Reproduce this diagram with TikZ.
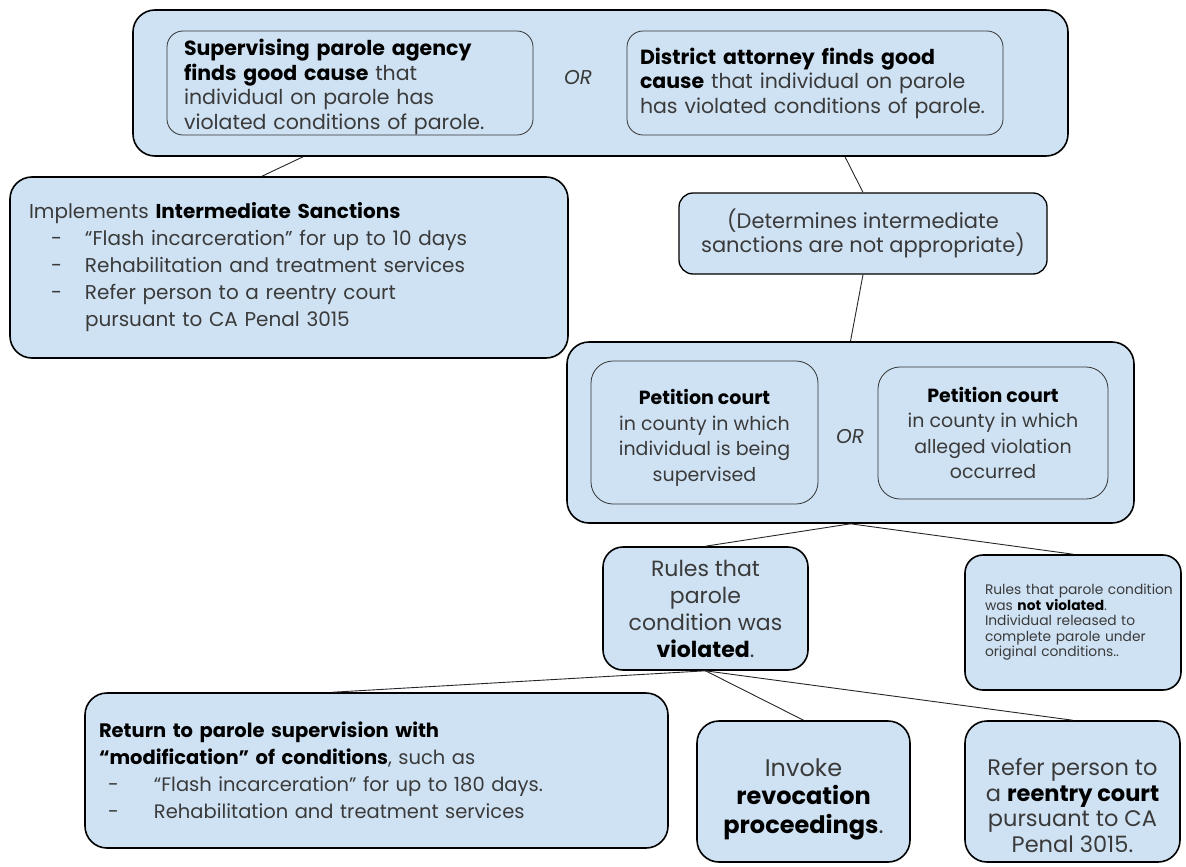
\documentclass[tikz,border=0pt]{standalone}
\usepackage{fontspec}
\setmainfont{Poppins}
\usetikzlibrary{positioning}
\definecolor{boxblue}{HTML}{CFE2F3}
\definecolor{inkgrey}{HTML}{3A3A3A}
\newcommand{\itm}{\hspace*{22pt}\makebox[34pt][l]{-}}
\newcommand{\cont}{\hspace*{56pt}}
\newcommand{\bld}[1]{\textbf{\color{black}#1}}
\newcommand{\ind}{\hspace*{16pt}}
\tikzset{
  outerbox/.style={draw=black, line width=1.6pt, fill=boxblue, rounded corners=22pt, text=inkgrey},
  innerbox/.style={draw=black!80, line width=0.8pt, rounded corners=16pt, text=inkgrey},
  link/.style={draw=black!85, line width=0.9pt},
}
\begin{document}
\begin{tikzpicture}[x=1pt,y=-1pt]
  \useasboundingbox (0,0) rectangle (1186,867);

  \node[outerbox, minimum width=935pt, minimum height=146pt] (agency) at (600.5,83) {};
  \node[innerbox, minimum width=366pt, minimum height=104pt, text width=332pt, inner xsep=17pt,
        inner ysep=0pt, align=left, font=\fontsize{20.5}{24.5}\selectfont] (supervising) at (350,83)
        {\mbox{}\\\bld{Supervising parole agency}\\\bld{finds good cause} that\\individual on parole has\\violated conditions of parole.};
  \node[text=inkgrey, font=\fontsize{20}{24}\selectfont\itshape] (or1) at (578,78) {OR};
  \node[innerbox, minimum width=376pt, minimum height=104pt, text width=350pt, inner xsep=13pt,
        align=left, font=\fontsize{20.5}{24.5}\selectfont] (attorney) at (815,83)
        {\bld{District attorney finds good}\\\bld{cause} that individual on parole\\has violated conditions of parole.};

  \node[outerbox, minimum width=558pt, minimum height=181pt, text width=520pt, inner xsep=19pt,
        align=left, font=\fontsize{20}{27}\selectfont] (sanctions) at (289,267.5)
        {Implements \bld{Intermediate Sanctions}\\
         \itm “Flash incarceration” for up to 10 days\\
         \itm Rehabilitation and treatment services\\
         \itm Refer person to a reentry court\\
         \cont pursuant to CA Penal 3015};

  \node[outerbox, line width=1.3pt, rounded corners=14pt, minimum width=368pt, minimum height=81pt,
        align=center, font=\fontsize{21}{24}\selectfont] (determines) at (863,233.5)
        {(Determines intermediate\\sanctions are not appropriate)};

  \node[outerbox, minimum width=567pt, minimum height=181pt] (petition) at (850.5,432.5) {};
  \node[innerbox, rounded corners=22pt, minimum width=227pt, minimum height=143pt, align=center,
        font=\fontsize{19}{25.5}\selectfont] (supcounty) at (704.5,432.5)
        {\mbox{}\\\bld{Petition court}\\in county in which\\individual is being\\supervised};
  \node[text=inkgrey, font=\fontsize{20}{24}\selectfont\itshape] (or2) at (850,437) {OR};
  \node[innerbox, rounded corners=22pt, minimum width=230pt, minimum height=132pt, align=center,
        font=\fontsize{19}{25.5}\selectfont] (viocounty) at (993,433)
        {\bld{Petition court}\\in county in which\\alleged violation\\occurred};

  \node[outerbox, rounded corners=20pt, minimum width=205pt, minimum height=123pt, align=center,
        font=\fontsize{22}{27}\selectfont] (violated) at (705.5,608.5)
        {Rules that\\parole\\condition was\\\bld{violated}.};
  \node[outerbox, rounded corners=18pt, minimum width=216pt, minimum height=135pt, text width=208pt,
        inner xsep=4pt, align=left, font=\fontsize{13.8}{15.5}\selectfont] (notviolated) at (1073,622.5)
        {\ind Rules that parole condition\\\ind was \bld{not violated}.\\\ind Individual released to\\\ind complete parole under\\\ind original conditions..\\[10pt]};

  \node[outerbox, minimum width=583pt, minimum height=155pt, text width=555pt, inner xsep=14pt,
        align=left, font=\fontsize{19.5}{27}\selectfont] (modify) at (376.5,770.5)
        {\bld{Return to parole supervision with}\\
         \bld{“modification” of conditions}, such as\\
         \hspace*{9pt}\makebox[46pt][l]{-}“Flash incarceration” for up to 180 days.\\
         \hspace*{9pt}\makebox[46pt][l]{-}Rehabilitation and treatment services};
  \node[outerbox, minimum width=213pt, minimum height=141pt, align=center,
        font=\fontsize{24}{28.5}\selectfont] (revoke) at (803.5,791.5)
        {\mbox{}\\[4.5pt]Invoke\\\bld{revocation}\\\bld{proceedings}.};
  \node[outerbox, minimum width=215pt, minimum height=141pt, align=center,
        font=\fontsize{22.5}{25.5}\selectfont] (reentry) at (1072.5,791.5)
        {\mbox{}\\[20pt]Refer person to\\a \bld{reentry court}\\pursuant to CA\\Penal 3015.};

  \path[link] ([xshift=-297.5pt]agency.south) edge ([xshift=-27pt]sanctions.north)
              ([xshift=244.5pt]agency.south)  edge (determines.north)
              (determines.south)              edge (petition.north)
              (petition.south)                edge (violated.north)
              (petition.south)                edge (notviolated.north)
              (violated.south)                edge ([xshift=-43.5pt]modify.north)
              (violated.south)                edge (revoke.north)
              (violated.south)                edge (reentry.north)
  ;
\end{tikzpicture}
\end{document}
